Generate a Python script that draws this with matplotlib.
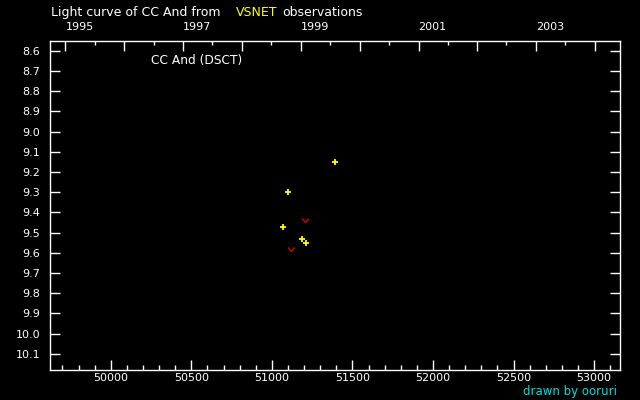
import datetime as dt
import matplotlib
matplotlib.use("Agg")
import matplotlib.pyplot as plt
from matplotlib.path import Path
from matplotlib.ticker import MultipleLocator, FixedLocator, NullFormatter

# observations (JD - 2400000, visual magnitude)
obs_jd = [51071, 51102, 51189, 51214, 51394]
obs_mag = [9.47, 9.30, 9.53, 9.55, 9.15]
# "fainter than" observations
lim_jd = [51121, 51208]
lim_mag = [9.58, 9.44]

year_ticks = list(range(1995, 2005))
year_labels = [str(y) if y % 2 == 1 else "" for y in year_ticks]


def jd_of(y, m=1):
    return (dt.date(y, m, 1) - dt.date(1858, 11, 17)).days + 0.5


def main():
    fig = plt.figure(figsize=(6.4, 4), dpi=100, facecolor="black")
    ax = fig.add_axes([50 / 640, 1 - 370.3 / 400, 570 / 640, (370.3 - 40.7) / 400])
    ax.set_facecolor("black")
    for s in ax.spines.values():
        s.set_color("white")
        s.set_linewidth(1)

    ax.set_xlim(49623, 53161)
    ax.set_ylim(10.182, 8.550)

    ax.plot(obs_jd, obs_mag, linestyle="none", marker="+", color="#ffff00",
            markersize=5, markeredgewidth=1.3)
    vmark = Path([(-1, 0.6), (0, -0.6), (1, 0.6)],
                 [Path.MOVETO, Path.LINETO, Path.LINETO])
    ax.plot(lim_jd, lim_mag, linestyle="none", marker=vmark, color="#d00000",
            markersize=5, markeredgewidth=1, fillstyle="none")

    ax.yaxis.set_major_locator(MultipleLocator(0.1))
    ax.yaxis.set_major_formatter(plt.FormatStrFormatter("%.1f"))
    ax.xaxis.set_major_locator(MultipleLocator(500))
    ax.xaxis.set_minor_locator(MultipleLocator(100))
    ax.tick_params(axis="y", which="major", direction="in", length=7.2, width=1,
                   colors="white", labelsize=8, pad=7, left=True, right=True)
    ax.tick_params(axis="x", which="major", direction="in", length=7.2, width=1,
                   colors="white", labelsize=8, pad=2)
    ax.tick_params(axis="x", which="minor", direction="in", length=3.6, width=1,
                   colors="white")

    top = ax.twiny()
    top.set_xlim(ax.get_xlim())
    top.xaxis.set_major_locator(FixedLocator([jd_of(y) for y in year_ticks]))
    top.set_xticklabels(year_labels, ha="left")
    top.xaxis.set_minor_locator(FixedLocator([jd_of(y, 7) for y in year_ticks]))
    top.xaxis.set_minor_formatter(NullFormatter())
    top.tick_params(axis="x", which="major", direction="in", length=7.2, width=1,
                    colors="white", labelsize=8, pad=6)
    top.tick_params(axis="x", which="minor", direction="in", length=2.8, width=1,
                    colors="white")
    for s in top.spines.values():
        s.set_visible(False)

    fs = 9
    fig.text(50.7 / 640, 1 - 12.3 / 400, "Light curve of CC And from",
             color="white", fontsize=fs, va="center", ha="left")
    fig.text(236 / 640, 1 - 12.3 / 400, "VSNET", color="#ffff00",
             fontsize=fs, va="center", ha="left")
    fig.text(282 / 640, 1 - 12.3 / 400, "observations", color="white",
             fontsize=fs, va="center", ha="left")
    fig.text(150.7 / 640, 1 - 60.7 / 400, "CC And (DSCT)", color="white",
             fontsize=8.8, va="center", ha="left")
    fig.text(617 / 640, 1 - 392 / 400, "drawn by ooruri", color="#00e0e0",
             fontsize=8.5, va="center", ha="right")

    fig.savefig("out.png", dpi=100, facecolor="black")


if __name__ == "__main__":
    main()
